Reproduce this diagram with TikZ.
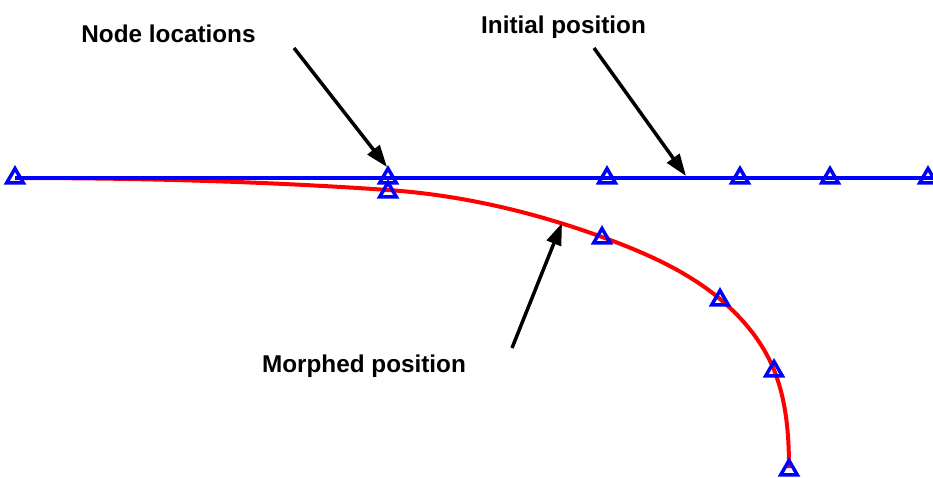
\documentclass[tikz,border=0pt]{standalone}
\usepackage{fontspec}
\setmainfont{Liberation Sans}
\usetikzlibrary{shapes.geometric,arrows.meta}
\begin{document}
\begin{tikzpicture}[x=1pt,y=-1pt,
  mk/.style={regular polygon,regular polygon sides=3,draw=blue,line width=3.5pt,minimum size=19pt,inner sep=0pt},
  lbl/.style={font=\fontsize{24.3}{28}\selectfont\bfseries,anchor=base,inner sep=0pt},
  ptr/.style={black,line width=3.5pt,-{Triangle[length=22pt,width=15pt]}},
  initline/.style={blue,line width=4pt},
  morphline/.style={red,line width=4pt}]
\useasboundingbox (0,0) rectangle (933,477);
\clip (0,0) rectangle (933,477);
% red morphed curve
\draw[morphline] (15,178)
  .. controls (139,178) and (264,181.4) .. (388,190)
  .. controls (461,195) and (533.4,212) .. (602,237)
  .. controls (643.4,252) and (686.3,270.7) .. (720,299)
  .. controls (743,318.3) and (762.8,342.2) .. (774,370)
  .. controls (786.4,400.6) and (789,435) .. (789,468);
% blue initial line
\draw[initline] (15,178) -- (940,178);
% node markers on initial position
\node[mk] (i1) at (15,178) {};
\node[mk] (i2) at (388,178) {};
\node[mk] (i3) at (607,178) {};
\node[mk] (i4) at (740,178) {};
\node[mk] (i5) at (830,178) {};
\node[mk] (i6) at (928,178) {};
% node markers on morphed position
\node[mk] (m2) at (388,192) {};
\node[mk] (m3) at (602,238) {};
\node[mk] (m4) at (720,300) {};
\node[mk] (m5) at (774,371) {};
\node[mk] (m6) at (789,470) {};
% labels
\node[lbl] (tnode) at (168.5,42) {Node locations};
\node[lbl] (tinit) at (563.5,33) {Initial position};
\node[lbl] (tmorph) at (364,372) {Morphed position};
% arrows
\coordinate (a1s) at (294,48);
\coordinate (a1e) at (387,167);
\coordinate (a2s) at (594,48);
\coordinate (a2e) at (686,176);
\coordinate (a3s) at (512,348);
\coordinate (a3e) at (562,223);
\draw[ptr] (a1s) -- (a1e);
\draw[ptr] (a2s) -- (a2e);
\draw[ptr] (a3s) -- (a3e);
\end{tikzpicture}
\end{document}
